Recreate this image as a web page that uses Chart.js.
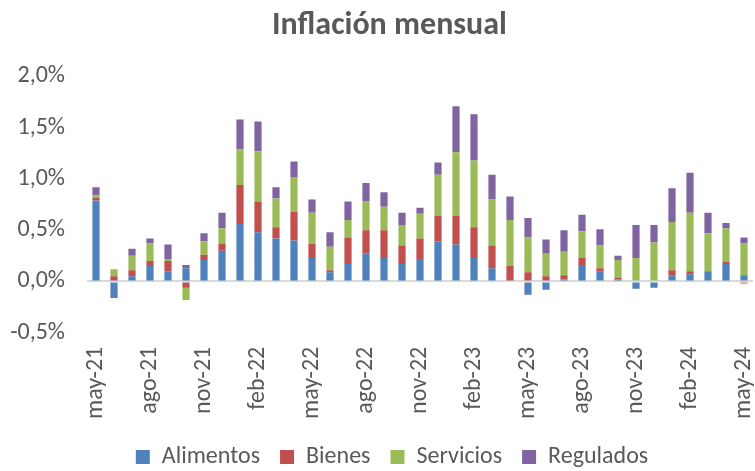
<!DOCTYPE html>
<html><head><meta charset="utf-8">
<script src="https://cdn.jsdelivr.net/npm/chart.js@4/dist/chart.umd.min.js"></script>
<style>html,body{margin:0;padding:0;background:#fff}#w{width:755px;height:471px}</style>
</head><body><div id="w"><canvas id="c"></canvas></div>
<script>
const categories = ["may-21","jun-21","jul-21","ago-21","sep-21","oct-21","nov-21","dic-21","ene-22","feb-22","mar-22","abr-22","may-22","jun-22","jul-22","ago-22","sep-22","oct-22","nov-22","dic-22","ene-23","feb-23","mar-23","abr-23","may-23","jun-23","jul-23","ago-23","sep-23","oct-23","nov-23","dic-23","ene-24","feb-24","mar-24","abr-24","may-24"];
const alimentos = [0.79,-0.16,0.05,0.15,0.10,0.13,0.21,0.30,0.56,0.48,0.42,0.40,0.23,0.09,0.17,0.27,0.23,0.17,0.22,0.39,0.36,0.23,0.13,-0.01,-0.13,-0.08,0.02,0.16,0.10,0.02,-0.07,-0.06,0.06,0.07,0.10,0.17,0.06];
const bienes = [0.03,0.05,0.06,0.05,0.10,-0.06,0.05,0.07,0.38,0.30,0.11,0.28,0.14,0.02,0.26,0.23,0.27,0.18,0.20,0.25,0.28,0.30,0.22,0.15,0.09,0.05,0.04,0.07,0.03,0.02,0.01,0.01,0.05,0.03,0.00,0.02,-0.02];
const servicios = [0.02,0.07,0.14,0.17,0.02,-0.12,0.13,0.15,0.35,0.49,0.28,0.34,0.30,0.23,0.17,0.28,0.23,0.20,0.24,0.40,0.62,0.65,0.45,0.45,0.34,0.22,0.23,0.26,0.22,0.17,0.22,0.37,0.47,0.57,0.37,0.33,0.31];
const regulados = [0.08,0.00,0.07,0.05,0.14,0.03,0.08,0.15,0.29,0.29,0.11,0.15,0.13,0.14,0.18,0.18,0.14,0.12,0.06,0.12,0.45,0.45,0.24,0.23,0.19,0.14,0.21,0.16,0.16,0.04,0.32,0.17,0.33,0.39,0.20,0.05,0.06];
const seriesNames = ["Alimentos","Bienes","Servicios","Regulados"];
const seriesColors = ["#4F81BD","#C0504D","#9BBB59","#8064A2"];
const titleText = "Inflación mensual";

const FONT = "Carlito, Calibri, Lato, sans-serif";
const TXT = "#595959";
const seriesData = [alimentos, bienes, servicios, regulados];

const shiftPlugin = {
  id: 'shiftBlocks',
  afterLayout(chart) {
    if (chart.titleBlock) chart.titleBlock.left = 26;
    if (chart.legend) chart.legend.left = 31;
  }
};

new Chart(document.getElementById('c'), {
  type: 'bar',
  data: {
    labels: categories,
    datasets: seriesNames.map((n,i)=>({
      label: n, data: seriesData[i], backgroundColor: seriesColors[i],
      borderWidth: 0, barPercentage: 0.4, categoryPercentage: 1.0
    }))
  },
  plugins: [shiftPlugin],
  options: {
    responsive: true, maintainAspectRatio: false, animation: false,
    layout: { padding: { left: 0, right: 2, top: 7, bottom: -8 } },
    plugins: {
      title: { display: true, text: titleText, color: TXT,
        font: { family: FONT, size: 32, weight: 'bold' }, padding: { top: 0, bottom: 31 } },
      legend: { position: 'bottom',
        labels: { color: TXT, font: { family: FONT, size: 24 }, boxWidth: 14, boxHeight: 14, padding: 20 } },
      tooltip: { enabled: false }
    },
    scales: {
      x: { stacked: true,
        grid: { display: false }, border: { display: false },
        ticks: { autoSkip: false, maxRotation: 90, minRotation: 90, color: TXT, padding: 6,
          font: { family: FONT, size: 24 },
          callback: function(v, i) { return i % 3 === 0 ? categories[i] : ''; } },
        afterFit: (s) => { s.paddingLeft = 0; s.paddingRight = 0; } },
      y: { stacked: true, min: -0.5, max: 2.0,
        border: { display: false },
        grid: { drawTicks: false, lineWidth: 2,
          color: (c) => (c.tick && c.tick.value === 0) ? '#D9D9D9' : 'rgba(0,0,0,0)' },
        ticks: { stepSize: 0.5, color: TXT, padding: 22, font: { family: FONT, size: 24 },
          callback: (v) => v.toFixed(1).replace('.', ',') + '%' },
        afterFit: (s) => { s.width = 87; } }
    }
  }
});
</script></body></html>
